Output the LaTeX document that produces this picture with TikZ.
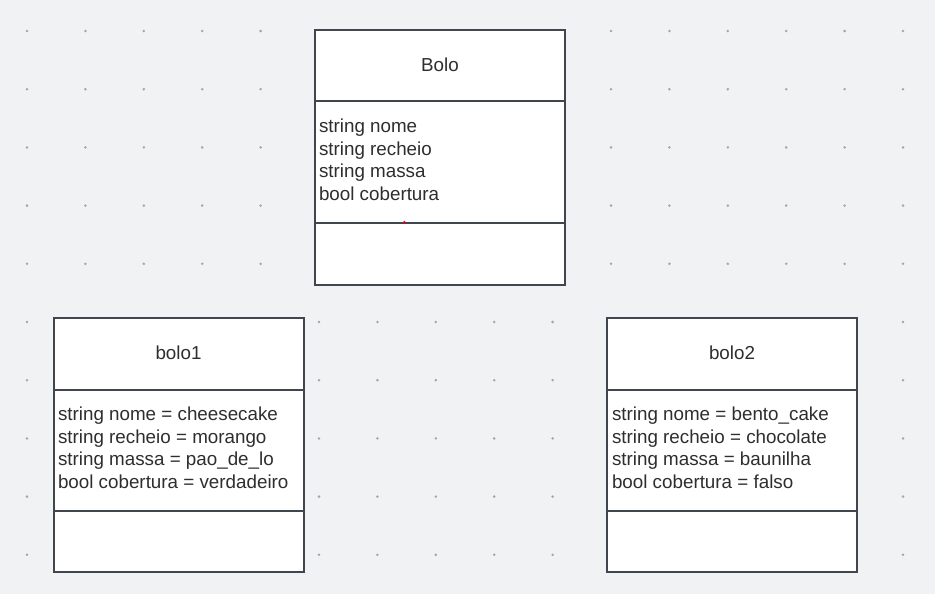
\documentclass[tikz,border=0pt]{standalone}
\usepackage{fontspec}
\setmainfont{Liberation Sans}
\newlength{\du}
\setlength{\du}{1pt}
\definecolor{bgcolor}{rgb}{0.945, 0.949, 0.957}
\definecolor{dotcolor}{rgb}{0.650, 0.650, 0.660}
\definecolor{linecolor}{rgb}{0.250, 0.275, 0.310}
\definecolor{textcolor}{rgb}{0.180, 0.180, 0.190}
\tikzset{
  classtitle/.style={anchor=base, inner sep=0pt, text=textcolor, font=\fontsize{18.8}{22.5}\selectfont},
  classattr/.style={anchor=base west, inner sep=0pt, text=textcolor, font=\fontsize{18.8}{22.5}\selectfont}
}

\begin{document}
\begin{tikzpicture}
\pgftransformxscale{1.000000}
\pgftransformyscale{-1.000000}
\useasboundingbox (0\du,0\du) rectangle (935\du,594\du);
\fill[bgcolor] (0\du,0\du) rectangle (935\du,594\du);
% dot grid
\foreach \i in {0,...,15}{
  \foreach \j in {0,...,9}{
    \fill[dotcolor] ({(27+58.4*\i)*\du},{(31+58.2*\j)*\du}) circle (1.4\du);
  }
}
\pgfsetlinewidth{2.000000\du}
% Bolo
\fill[white] (314.5\du,30\du)--(314.5\du,285\du)--(565\du,285\du)--(565\du,30\du)--cycle;
\draw[linecolor] (314.5\du,30\du)--(314.5\du,285\du)--(565\du,285\du)--(565\du,30\du)--cycle;
\draw[linecolor] (314.5\du,101.5\du)--(565\du,101.5\du);
\draw[linecolor] (314.5\du,222.5\du)--(565\du,222.5\du);
\fill[red] (404.3\du,222.3\du) circle (1.5\du);
\node[classtitle] (bolo) at (440\du,71\du){Bolo};
\node[classattr] (bolonome) at (318\du,132.7\du){string nome};
\node[classattr] (bolorecheio) at (318\du,155.2\du){string recheio};
\node[classattr] (bolomassa) at (318\du,177.7\du){string massa};
\node[classattr] (bolocobertura) at (318\du,200.2\du){bool cobertura};
% bolo1
\fill[white] (53.5\du,318\du)--(53.5\du,572\du)--(303.5\du,572\du)--(303.5\du,318\du)--cycle;
\draw[linecolor] (53.5\du,318\du)--(53.5\du,572\du)--(303.5\du,572\du)--(303.5\du,318\du)--cycle;
\draw[linecolor] (53.5\du,389.5\du)--(303.5\du,389.5\du);
\draw[linecolor] (53.5\du,510.5\du)--(303.5\du,510.5\du);
\node[classtitle] (boloum) at (178.5\du,359\du){bolo1};
\node[classattr] (boloumnome) at (57\du,420.7\du){string nome = cheesecake};
\node[classattr] (boloumrecheio) at (57\du,443.2\du){string recheio = morango};
\node[classattr] (boloummassa) at (57\du,465.7\du){string massa = pao\_de\_lo};
\node[classattr] (boloumcobertura) at (57\du,488.2\du){bool cobertura = verdadeiro};
% bolo2
\fill[white] (607\du,318\du)--(607\du,572\du)--(857\du,572\du)--(857\du,318\du)--cycle;
\draw[linecolor] (607\du,318\du)--(607\du,572\du)--(857\du,572\du)--(857\du,318\du)--cycle;
\draw[linecolor] (607\du,389.5\du)--(857\du,389.5\du);
\draw[linecolor] (607\du,510.5\du)--(857\du,510.5\du);
\node[classtitle] (bolodois) at (732\du,359\du){bolo2};
\node[classattr] (bolodoisnome) at (611\du,420.7\du){string nome = bento\_cake};
\node[classattr] (bolodoisrecheio) at (611\du,443.2\du){string recheio = chocolate};
\node[classattr] (bolodoismassa) at (611\du,465.7\du){string massa = baunilha};
\node[classattr] (bolodoiscobertura) at (611\du,488.2\du){bool cobertura = falso};
\end{tikzpicture}
\end{document}
